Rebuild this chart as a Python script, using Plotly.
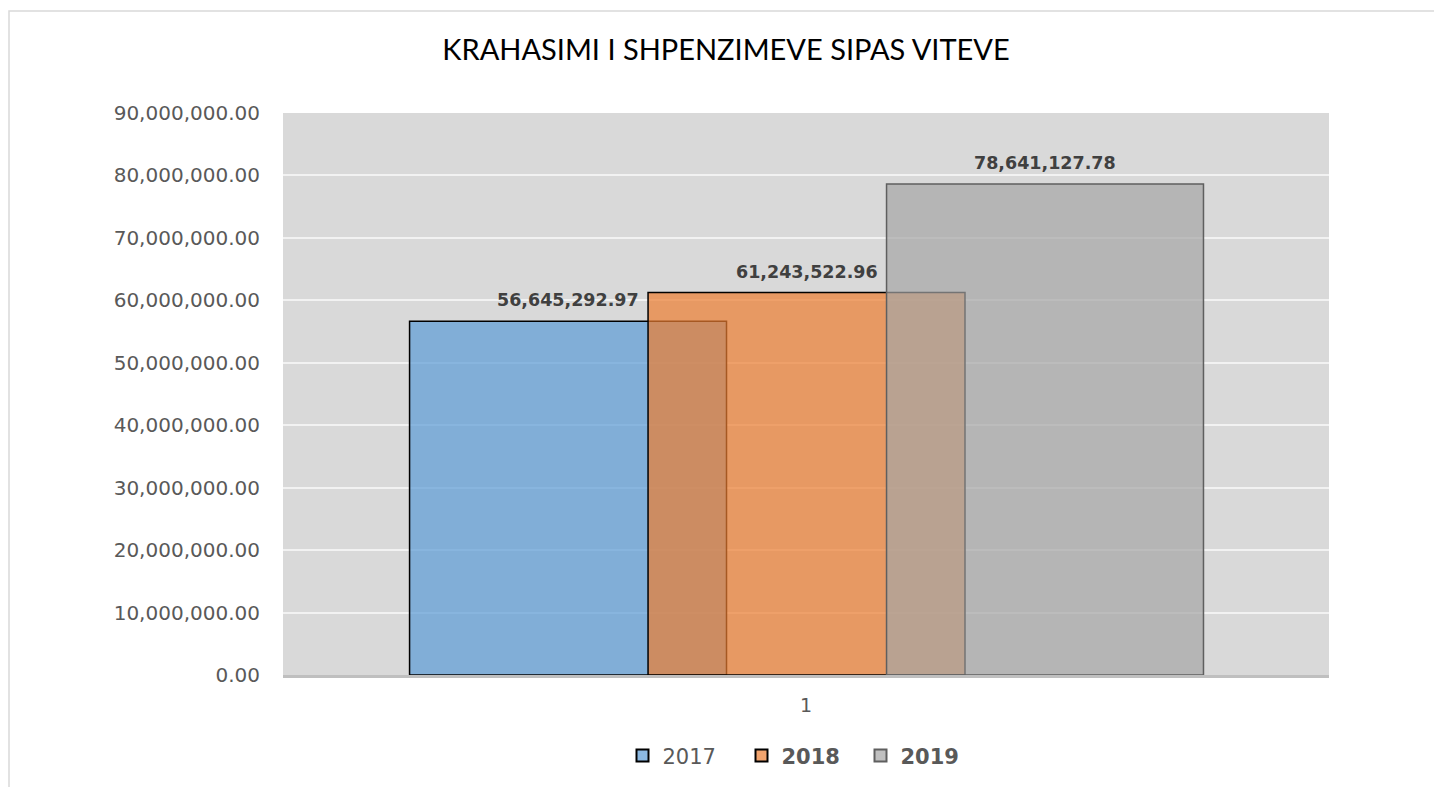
import plotly.graph_objects as go

# data
category = ["1"]
years = ["2017", "2018", "2019"]
values = [56645292.97, 61243522.96, 78641127.78]
y_ticks = [0, 10e6, 20e6, 30e6, 40e6, 50e6, 60e6, 70e6, 80e6, 90e6]

fills = ["rgba(91,155,213,0.7)", "rgba(237,125,49,0.7)", "rgba(165,165,165,0.7)"]
edges = ["#000000", "#000000", "#5f5f5f"]
legend_names = ["2017", "<b>2018</b>", "<b>2019</b>"]
offsets = [-0.379, -0.151, 0.077]
bar_w = 0.303

fig = go.Figure()
for i, yr in enumerate(years):
    fig.add_trace(
        go.Bar(
            x=category,
            y=[values[i]],
            name=legend_names[i],
            offset=offsets[i],
            width=bar_w,
            marker=dict(color=fills[i], line=dict(color=edges[i], width=1.5)),
        )
    )
    # data label above each bar (Excel style, a bit higher than plotly's default)
    fig.add_annotation(
        x=offsets[i] + bar_w / 2,
        y=values[i],
        text=f"{values[i]:,.2f}",
        showarrow=False,
        yanchor="bottom",
        yshift=9,
        font=dict(family="DejaVu Sans", size=17.5, color="#404040", weight="bold"),
    )

# chart frame like the Excel chart area (page is drawn 8px in from the corner)
fig.add_shape(
    type="rect", xref="paper", yref="paper",
    x0=(1 - 275) / 1046, x1=(1460 - 275) / 1046,
    y0=(667 - 800) / 562, y1=(667 - 3) / 562,
    line=dict(color="#d9d9d9", width=1.5), layer="below",
)

fig.update_layout(
    width=1442,
    height=787,
    barmode="overlay",
    paper_bgcolor="white",
    plot_bgcolor="#d9d9d9",
    margin=dict(l=275, r=121, t=105, b=120),
    title=dict(
        text="KRAHASIMI I SHPENZIMEVE SIPAS VITEVE",
        font=dict(family="Lato", size=29, color="#000000"),
        xref="container", x=(726 - 8) / 1442, xanchor="center",
        yref="container", y=1 - 42 / 787, yanchor="middle",
    ),
    showlegend=True,
    legend=dict(
        orientation="h",
        x=(801 - 283) / 1046, xanchor="center",
        y=-0.144, yanchor="middle",
        font=dict(family="DejaVu Sans", size=21, color="#595959"),
        itemsizing="constant",
        traceorder="normal",
        entrywidth=74,
    ),
    xaxis=dict(
        type="category",
        range=[-0.5, 0.5],
        showgrid=False,
        showline=True,
        linecolor="#bfbfbf",
        linewidth=3,
        ticks="",
        ticklabelstandoff=11,
        tickfont=dict(family="DejaVu Sans", size=19, color="#595959"),
    ),
    yaxis=dict(
        range=[0, 90e6],
        tickvals=y_ticks,
        tickformat=",.2f",
        showgrid=True,
        gridcolor="#f2f2f2",
        gridwidth=2,
        zeroline=False,
        ticks="",
        ticklabelstandoff=22,
        tickfont=dict(family="DejaVu Sans", size=20, color="#595959"),
    ),
)

fig.write_html("out.html")
